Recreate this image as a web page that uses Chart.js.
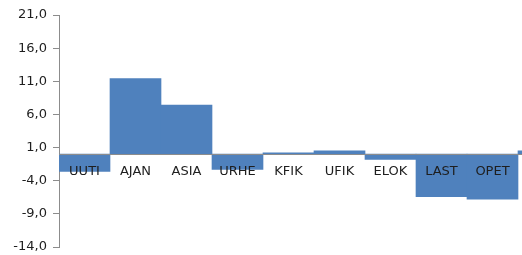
<!DOCTYPE html>
<html>
<head>
<meta charset="utf-8">
<script src="https://cdn.jsdelivr.net/npm/chart.js@4/dist/chart.umd.min.js"></script>
<style>
  html, body { margin: 0; padding: 0; background: #fff; overflow: hidden; }
  #wrap { width: 570px; height: 255px; position: relative; }
</style>
</head>
<body>
<div id="wrap"><canvas id="barChart"></canvas></div>
<script>
// kategoriat ja arvot (luettu kuvasta)
const categories = ['UUTI', 'AJAN', 'ASIA', 'URHE', 'KFIK', 'UFIK', 'ELOK', 'LAST', 'OPET', ''];
const values = [-2.6, 11.4, 7.4, -2.3, 0.2, 0.5, -0.8, -6.4, -6.8, 0.5];
const yTicks = [-14, -9, -4, 1, 6, 11, 16, 21];

const barColor = '#4F81BD';
const axisColor = '#8c8c8c';
const textColor = '#1e1e1e';

function initChart() {
    const ctx = document.getElementById('barChart').getContext('2d');
    new Chart(ctx, {
        type: 'bar',
        data: {
            labels: categories,
            datasets: [{
                data: values,
                backgroundColor: barColor,
                borderWidth: 0,
                categoryPercentage: 1.0,
                barPercentage: 1.0
            }]
        },
        options: {
            responsive: true,
            maintainAspectRatio: false,
            animation: false,
            layout: { padding: { top: 15, bottom: 8, right: 1, left: 0 } },
            plugins: { legend: { display: false }, tooltip: { enabled: false } },
            scales: {
                x: {
                    position: { y: 0 },
                    afterFit: axis => { axis.height = 0; },
                    grid: { display: false, drawTicks: false },
                    border: { color: axisColor, width: 1, z: 1 },
                    ticks: {
                        z: 2,
                        color: textColor,
                        padding: 10,
                        maxRotation: 0,
                        autoSkip: false,
                        font: { family: 'DejaVu Sans', size: 13 }
                    }
                },
                y: {
                    min: -14,
                    max: 21,
                    afterBuildTicks: axis => { axis.ticks = yTicks.map(v => ({ value: v })); },
                    afterFit: axis => {
                        axis.width = 59;
                        axis.paddingTop = 0;
                        axis.paddingBottom = 0;
                    },
                    grid: { display: true, drawOnChartArea: false, drawTicks: true, tickLength: 6, color: axisColor },
                    border: { color: axisColor, width: 1 },
                    ticks: {
                        color: textColor,
                        padding: 6,
                        font: { family: 'DejaVu Sans', size: 13 },
                        callback: v => v.toFixed(1).replace('.', ',')
                    }
                }
            }
        }
    });
}

window.onload = function() {
    initChart();
};
</script>
</body>
</html>
